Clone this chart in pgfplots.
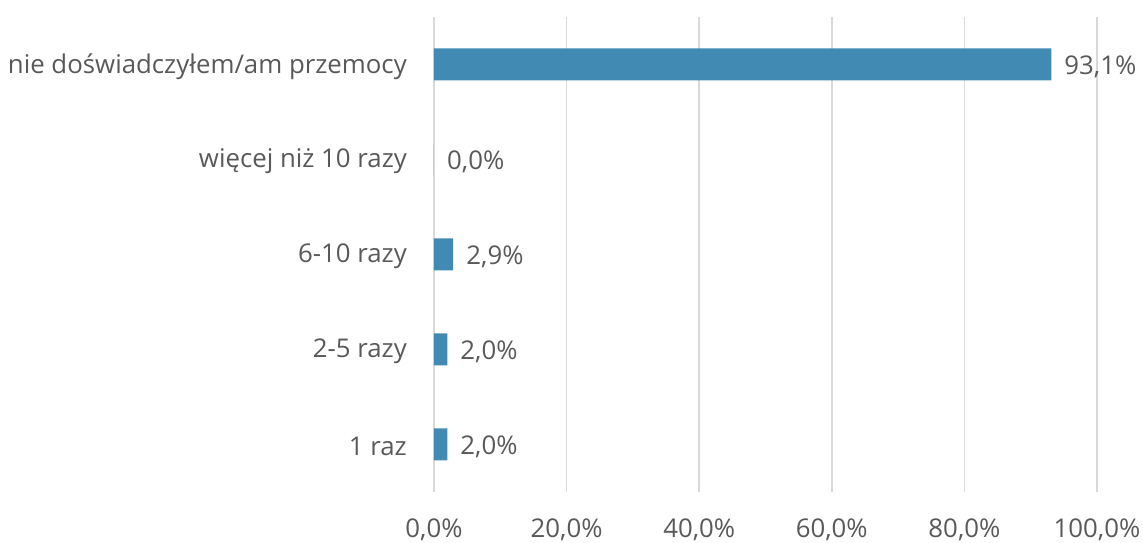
\documentclass[border=0pt]{standalone}
\usepackage{fontspec}
\setmainfont{Open Sans}
\usepackage{pgfplots}
\pgfplotsset{compat=1.18}
\definecolor{barblue}{HTML}{418AB3}
\definecolor{txtgray}{HTML}{595959}
\definecolor{gridgray}{HTML}{D9D9D9}
\begin{document}
\begin{tikzpicture}
\useasboundingbox (-434pt,-51pt) rectangle (709pt,492pt);
\begin{axis}[at={(0,0)},anchor=south west,scale only axis,width=663pt,height=475pt,
 xbar,bar width=32pt,xmin=0,xmax=100,ymin=-0.5,ymax=4.5,
 xtick={0,20,...,100},ytick={0,...,4},
 yticklabels={1 raz,2-5 razy,6-10 razy,więcej niż 10 razy,nie doświadczyłem/am przemocy},
 /pgf/number format/assume math mode=true,
 xticklabel={\pgfmathprintnumber[fixed,fixed zerofill,precision=1,use comma]{\tick}\%},
 xticklabel style={anchor=base,yshift=-46pt,inner sep=0pt},
 yticklabel style={anchor=east,inner sep=0pt,xshift=-27pt,yshift=-2pt},
 tick label style={font=\fontsize{25.8}{30}\selectfont,text=txtgray},
 xmajorgrids,grid style={gridgray,line width=1.6pt},
 axis line style={draw=none},major tick length=0pt,
 point meta=x,
 nodes near coords={\pgfmathprintnumber[fixed,fixed zerofill,precision=1,use comma]{\pgfplotspointmeta}\%},
 every node near coord/.append style={anchor=west,inner sep=0pt,xshift=13pt,yshift=-2pt,font=\fontsize{25.8}{30}\selectfont,text=txtgray},
 clip=false]
\addplot[fill=barblue,draw=none] coordinates {(2.0,0) (2.0,1) (2.9,2) (0.0,3) (93.1,4)};
\end{axis}
\end{tikzpicture}
\end{document}
